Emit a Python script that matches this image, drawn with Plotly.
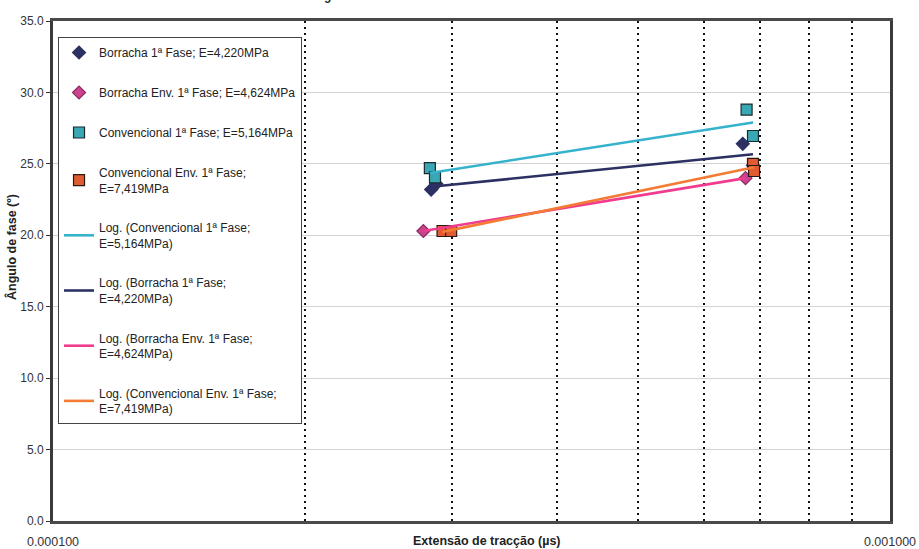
import numpy as np
import plotly.graph_objects as go

# Measured phase angle (°) against tensile strain, first phase
borracha_x = [2.83e-4, 2.87e-4, 6.67e-4, 6.86e-4]
borracha_y = [23.2, 23.6, 26.4, 24.9]

borracha_env_x = [2.77e-4, 6.72e-4]
borracha_env_y = [20.3, 24.0]

convencional_x = [2.82e-4, 2.86e-4, 6.74e-4, 6.86e-4]
convencional_y = [24.7, 24.05, 28.8, 26.95]

convencional_env_x = [2.92e-4, 2.99e-4, 6.86e-4, 6.88e-4]
convencional_env_y = [20.3, 20.3, 25.0, 24.5]

x_tick_vals = [1e-4, 1e-3]
x_tick_text = ["0.000100", "0.001000"]
minor_grid_vals = [2e-4, 3e-4, 4e-4, 5e-4, 6e-4, 7e-4, 8e-4, 9e-4]

NAVY = "#2c3063"
PINK_M = "#c9438f"
PINK_L = "#f03c8e"
CYAN_M = "#3aa7b5"
CYAN_L = "#35b3cc"
ORANGE_M = "#e05a32"
ORANGE_L = "#f47b34"

FONT = "Liberation Sans, Arial, sans-serif"

fig = go.Figure()


def add_points(name, xs, ys, symbol, color, size, edge):
    fig.add_trace(go.Scatter(
        x=xs, y=ys, mode="markers", name=name, legendgroup=name,
        marker=dict(symbol=symbol, color=color, size=size,
                    line=dict(color=edge, width=1.2)),
    ))


def add_log_trend(name, xs, ys, color):
    # logarithmic trend y = a*ln(x) + b over the range of the data
    a, b = np.polyfit(np.log(xs), ys, 1)
    xt = np.geomspace(min(xs), max(xs), 20)
    fig.add_trace(go.Scatter(
        x=xt, y=a * np.log(xt) + b, mode="lines", name=name, legendgroup=name,
        line=dict(color=color, width=2.6),
    ))


add_points("Borracha 1ª Fase; E=4,220MPa", borracha_x, borracha_y,
           "diamond", NAVY, 10, NAVY)
add_points("Borracha Env. 1ª Fase; E=4,624MPa", borracha_env_x, borracha_env_y,
           "diamond", PINK_M, 10, "#8a2a60")
add_points("Convencional 1ª Fase; E=5,164MPa", convencional_x, convencional_y,
           "square", CYAN_M, 11, "#1c2a2e")
add_points("Convencional Env. 1ª Fase;<br>E=7,419MPa", convencional_env_x, convencional_env_y,
           "square", ORANGE_M, 11, "#2a1a14")

add_log_trend("Log. (Convencional 1ª Fase;<br>E=5,164MPa)", convencional_x, convencional_y, CYAN_L)
add_log_trend("Log. (Borracha 1ª Fase;<br>E=4,220MPa)", borracha_x, borracha_y, NAVY)
add_log_trend("Log. (Borracha Env. 1ª Fase;<br>E=4,624MPa)", borracha_env_x, borracha_env_y, PINK_L)
add_log_trend("Log. (Convencional Env. 1ª Fase;<br>E=7,419MPa)", convencional_env_x, convencional_env_y, ORANGE_L)

fig.update_layout(
    width=919, height=549,
    margin=dict(l=53, r=29, t=21, b=28),
    paper_bgcolor="white", plot_bgcolor="white",
    font=dict(family=FONT, size=12, color="#222222"),
    showlegend=True,
    legend=dict(
        x=0.006, y=0.968, xanchor="left", yanchor="top",
        bgcolor="white", bordercolor="#444444", borderwidth=1,
        font=dict(family=FONT, size=12, color="#222222"),
        tracegroupgap=21, itemwidth=30,
    ),
    xaxis=dict(
        type="log", range=[-4, -3], automargin=False,
        tickvals=x_tick_vals, ticktext=x_tick_text,
        ticks="", ticklen=0, ticklabelstandoff=7,
        tickfont=dict(family=FONT, size=12.5, color="#333333"),
        showgrid=False, zeroline=False,
        showline=True, linecolor="#4a4a4a", linewidth=3, mirror=True,
        minor=dict(tickvals=minor_grid_vals, showgrid=True, griddash="2px,4px",
                   gridcolor="#111111", gridwidth=2, ticks=""),
    ),
    yaxis=dict(
        range=[0, 35], dtick=5, tickformat=".1f", automargin=False,
        ticks="outside", ticklen=4, tickcolor="#333333",
        tickfont=dict(family=FONT, size=12, color="#333333"),
        showgrid=True, gridcolor="#d4d4d4", gridwidth=1,
        zeroline=False,
        showline=True, linecolor="#3a3a3a", linewidth=3, mirror=True,
    ),
    annotations=[
        dict(text="<b>Extensão de tracção (µs)</b>", xref="paper", yref="paper",
             x=0.519, y=-0.04, xanchor="center", yanchor="middle", showarrow=False,
             font=dict(family=FONT, size=12.5, color="#222222")),
        dict(text="<b>Ângulo de fase (º)</b>", xref="paper", yref="paper",
             x=-0.049, y=0.548, xanchor="center", yanchor="middle", textangle=-90,
             showarrow=False, font=dict(family=FONT, size=12.5, color="#222222")),
        dict(text="<b>Ângulo de Fase - Misturas com Borracha e Convencional - 1ª Fase</b>",
             xref="paper", yref="paper", x=0.53, y=1.033,
             xanchor="center", yanchor="bottom", showarrow=False,
             font=dict(family=FONT, size=12, color="#333333")),
    ],
)

fig.write_html("out.html")
